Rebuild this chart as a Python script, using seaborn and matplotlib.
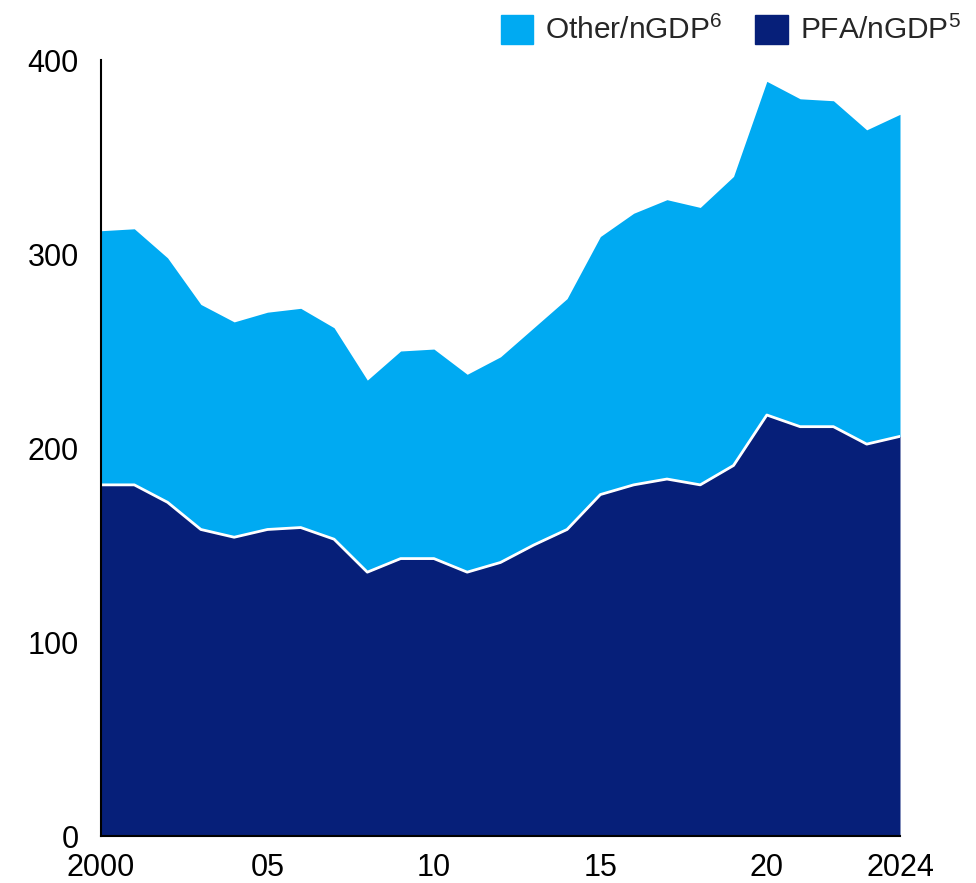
import numpy as np
import pandas as pd
import matplotlib
matplotlib.use("Agg")
import matplotlib.pyplot as plt
from matplotlib.patches import Patch
import seaborn as sns

# data
years = list(range(2000, 2025))
pfa = [181, 181, 172, 158, 154, 158, 159, 153, 136, 143, 143, 136, 141, 150, 158,
       176, 181, 184, 181, 191, 217, 211, 211, 202, 206]
total = [312, 313, 298, 274, 265, 270, 272, 262, 235, 250, 251, 238, 247, 262, 277,
         309, 321, 328, 324, 340, 389, 380, 379, 364, 372]
xtick_pos = [2000, 2005, 2010, 2015, 2020, 2024]
xtick_labels = ["2000", "05", "10", "15", "20", "2024"]
yticks = [0, 100, 200, 300, 400]

df = pd.DataFrame({"year": years, "pfa": pfa, "total": total})
df["other"] = df["total"] - df["pfa"]

LIGHT = "#00AAF2"
NAVY = "#061F79"

sns.set_style("white")
plt.rcParams["font.family"] = ["Liberation Sans", "DejaVu Sans"]
plt.rcParams["mathtext.fontset"] = "custom"
plt.rcParams["mathtext.rm"] = "Liberation Sans"
plt.rcParams["mathtext.it"] = "Liberation Sans"

fig = plt.figure(figsize=(9.76, 8.83), dpi=100)
ax = fig.add_axes([101 / 976, 1 - 836 / 883, (900 - 101) / 976, (836 - 60) / 883])

ax.stackplot(df["year"], df["pfa"], df["other"], colors=[NAVY, LIGHT], linewidth=0)
sns.lineplot(data=df, x="year", y="pfa", ax=ax, color="white", linewidth=2)

ax.set_xlim(2000, 2024)
ax.set_ylim(0, 400)
ax.set_xticks(xtick_pos)
ax.set_xticklabels(xtick_labels)
ax.set_yticks(yticks)
ax.set_xlabel("")
ax.set_ylabel("")
ax.tick_params(axis="both", length=0, labelsize=22, colors="black")
ax.tick_params(axis="x", pad=12)
ax.tick_params(axis="y", pad=16)

for s in ["top", "right"]:
    ax.spines[s].set_visible(False)
for s in ["left", "bottom"]:
    ax.spines[s].set_color("black")
    ax.spines[s].set_linewidth(1.5)

handles = [Patch(color=LIGHT, label=r"Other/nGDP$^{6}$"),
           Patch(color=NAVY, label=r"PFA/nGDP$^{5}$")]
fig.legend(handles=handles, loc="upper right", bbox_to_anchor=(1.0, 1.0), ncol=2,
           frameon=False, fontsize=21.5, handlelength=1.1, handleheight=1.1,
           handletextpad=0.4, columnspacing=1.1, borderaxespad=0.1)

fig.savefig("out.png", dpi=100)
